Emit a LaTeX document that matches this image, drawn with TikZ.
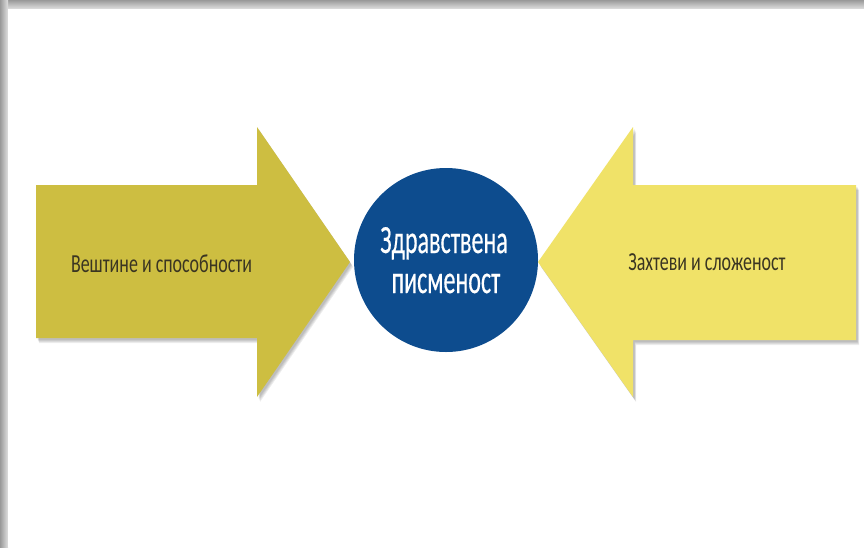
\documentclass[tikz,border=0pt]{standalone}
\usepackage{fontspec}
\setmainfont{Carlito}
\newfontfamily\condA[FakeStretch=0.69]{Carlito}
\newfontfamily\condB[FakeStretch=0.6,FakeBold=0.4]{Carlito}
\definecolor{leftc}{HTML}{CDBE41}
\definecolor{rightc}{HTML}{F0E268}
\definecolor{circc}{HTML}{0D4C8E}
\definecolor{txtc}{HTML}{3A3522}
\tikzset{
  shadowfill/.style={fill=black, fill opacity=0.07},
  arrowtext/.style={anchor=base, inner sep=0pt, text=txtc, font=\condA\fontsize{26}{30}\selectfont},
  circtext/.style={anchor=base, inner sep=0pt, text=white, font=\condB\fontsize{40}{44}\selectfont}
}
\newcommand{\leftarrowpath}{(36,185) -- (257,185) -- (257,127) -- (350,262) -- (257,397) -- (257,338) -- (36,338) -- cycle}
\newcommand{\rightarrowpath}{(856,185) -- (633,185) -- (633,127) -- (538,262) -- (633,397) -- (633,340) -- (856,340) -- cycle}
\begin{document}
\begin{tikzpicture}[x=1pt,y=-1pt]
\useasboundingbox (0,0) rectangle (864,547);
\fill[white] (0,0) rectangle (864,547);
% page shadow
\shade[top color=black!40, bottom color=black!12] (0,0) rectangle (864,9);
\shade[left color=black!40, right color=black!12] (0,0) rectangle (8,547);
\fill[white] (8,9) rectangle (864,547);
% arrow shadows
\foreach \s in {1,2,3,4} {
  \begin{scope}[shift={(1+0.5*\s,1+\s)}]
    \fill[shadowfill] \leftarrowpath;
    \fill[shadowfill] \rightarrowpath;
  \end{scope}
}
% arrows
\fill[leftc] \leftarrowpath;
\fill[rightc] \rightarrowpath;
% circle
\node[circle, fill=circc, minimum size=184pt, inner sep=0pt] (c) at (446,260) {};
\node[circtext] (t1) at (444,253) {Здравствена};
\node[circtext] (t2) at (446,293) {писменост};
\node[arrowtext] (la) at (161.5,272) {Вештине и способности};
\node[arrowtext] (ra) at (707,270) {Захтеви и сложеност};
\end{tikzpicture}
\end{document}
